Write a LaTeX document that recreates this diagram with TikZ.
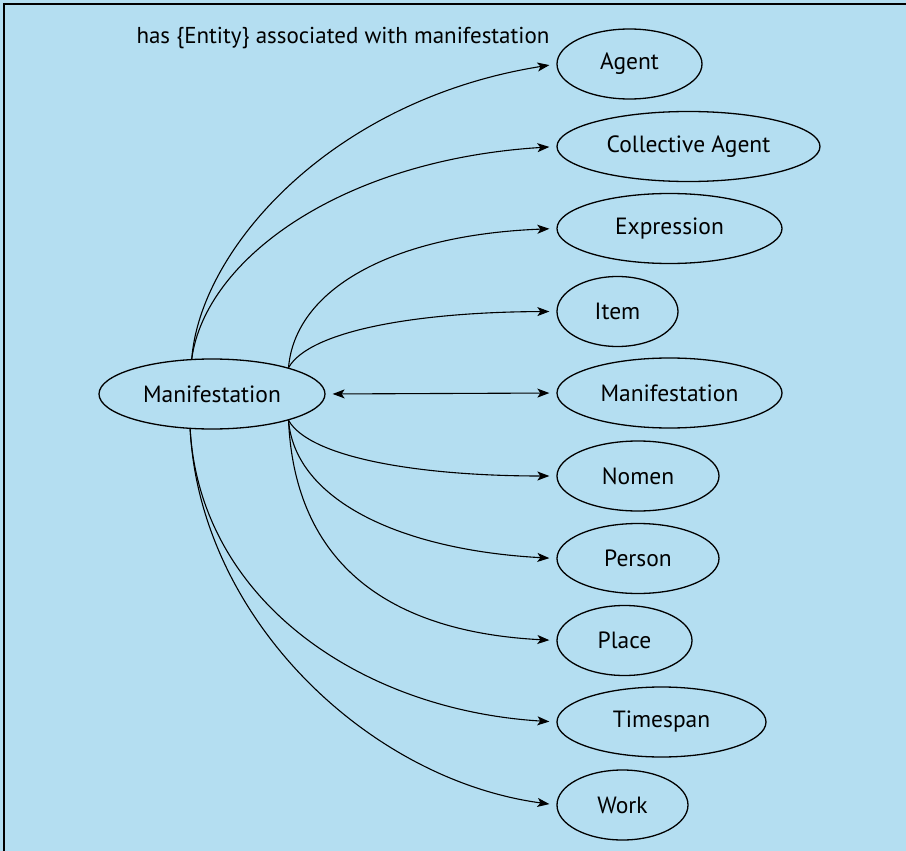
\documentclass[tikz,border=0pt]{standalone}
\usepackage{fontspec}
\setmainfont{PT Sans}
\usetikzlibrary{shapes.geometric,arrows.meta}
\definecolor{bgblue}{RGB}{180,222,241}
\begin{document}
\begin{tikzpicture}[x=1pt,y=-1pt,
  entity/.style={draw=black, ellipse, line width=1.3pt, inner sep=0pt,
    minimum height=70pt, font=\fontsize{23.5}{26}\selectfont},
  tip/.style={-{Stealth[length=12pt,width=9pt,inset=3pt]}},
  link/.style={line width=1.1pt, tip, shorten >=7pt},
  both/.style={line width=1.1pt, {Stealth[length=12pt,width=9pt,inset=3pt]}-{Stealth[length=12pt,width=9pt,inset=3pt]},
    shorten >=7pt, shorten <=7pt}]
\useasboundingbox (0,0) rectangle (906,851);
\fill[bgblue] (0,0) rectangle (906,851);
\draw[line width=2pt] (4,851) -- (4,4) -- (906,4);

% central entity
\node[entity, minimum width=226pt] (src) at (212,394) {Manifestation};

% related entities
\node[entity, minimum width=145pt] (agent) at (629.5,64) {Agent};
\node[entity, minimum width=263pt] (coll) at (688.5,146.5) {Collective Agent};
\node[entity, minimum width=225pt] (expr) at (669.5,228.5) {Expression};
\node[entity, minimum width=121pt] (item) at (617.5,311.5) {Item};
\node[entity, minimum width=225pt] (mani) at (669.5,393) {Manifestation};
\node[entity, minimum width=162pt] (nomen) at (638,476) {Nomen};
\node[entity, minimum width=162pt] (person) at (638,558.5) {Person};
\node[entity, minimum width=135pt] (place) at (624.5,640.5) {Place};
\node[entity, minimum width=209pt] (time) at (661.5,722) {Timespan};
\node[entity, minimum width=131pt] (work) at (622.5,805) {Work};

\node[font=\fontsize{23}{26}\selectfont, anchor=base, inner sep=0pt] (title) at (343,43.5)
  {has \{Entity\} associated with manifestation};

% connectors
\draw[link] (src.120) .. controls (200,250) and (330,100) .. (agent.west);
\draw[link] (src.120) .. controls (205,260) and (340,160) .. (coll.west);
\draw[link] (src.19) .. controls (295,290) and (390,235) .. (expr.west);
\draw[link] (src.19) .. controls (310,330) and (420,312) .. (item.west);
\draw[both] (src.east) -- (mani.west);
\draw[link] (src.-19) .. controls (310,458) and (420,476) .. (nomen.west);
\draw[link] (src.-19) .. controls (295,500) and (400,550) .. (person.west);
\draw[link] (src.-19) .. controls (295,565) and (390,632) .. (place.west);
\draw[link] (src.238) .. controls (200,600) and (360,710) .. (time.west);
\draw[link] (src.238) .. controls (200,620) and (370,780) .. (work.west);
\end{tikzpicture}
\end{document}
